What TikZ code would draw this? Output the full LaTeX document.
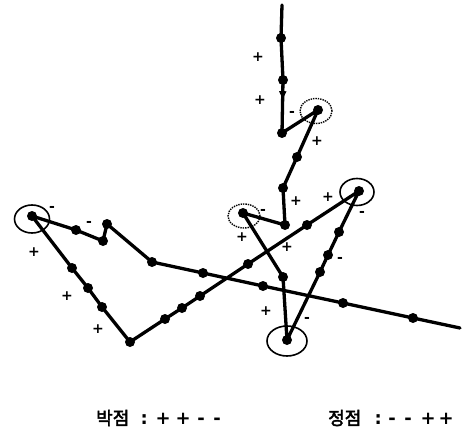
\documentclass[tikz,border=0pt]{standalone}
\usepackage{fontspec}
\newfontfamily\kr[FakeBold=2.5]{Noto Sans CJK KR}
\newfontfamily\sym{DejaVu Sans}
\usetikzlibrary{decorations.markings,arrows.meta,shapes.geometric}
\newcommand\sgbox[1]{\makebox[0pt]{\sym\bfseries #1}}
\begin{document}
\begin{tikzpicture}[x=1pt,y=-1pt,
  route/.style={line width=3.3pt, line join=round, line cap=round},
  dot/.style={circle,fill,inner sep=0pt,minimum size=10pt},
  sg/.style={font=\sym\bfseries\fontsize{14}{14}\selectfont, inner sep=0pt},
  ring/.style={draw, ellipse, line width=1.6pt, inner sep=0pt},
  dring/.style={draw, ellipse, line width=1.4pt, densely dotted, inner sep=0pt},
  midarrow/.style={postaction={decorate}, decoration={markings, mark=at position 0.4 with {\arrow{Latex[length=10pt,width=8pt]}}}},
  legend/.style={font=\kr\fontsize{18}{20}\selectfont, anchor=west, inner sep=0pt}]
\useasboundingbox (0,0) rectangle (466,433);
% path vertices
\coordinate (s) at (282,5);
\node[dot] (a1) at (281,38) {};
\node[dot] (a2) at (283,80) {};
\node[dot] (p1) at (282,133) {};
\node[dot] (p2) at (318,110) {};
\node[dot] (b1) at (297,157) {};
\node[dot] (p3) at (283,188) {};
\node[dot] (p4) at (285,225) {};
\node[dot] (p5) at (243,213) {};
\node[dot] (p6) at (283,277) {};
\node[dot] (p7) at (287,340) {};
\node[dot] (c1) at (320,272) {};
\node[dot] (c2) at (328,255) {};
\node[dot] (c3) at (339,232) {};
\node[dot] (p8) at (359,191) {};
\node[dot] (d1) at (307,225) {};
\node[dot] (d2) at (248,264) {};
\node[dot] (d3) at (200,296) {};
\node[dot] (d4) at (182,308) {};
\node[dot] (d5) at (165,319) {};
\node[dot] (p9) at (130,342) {};
\node[dot] (e1) at (102,307) {};
\node[dot] (e2) at (88,288) {};
\node[dot] (e3) at (72,268) {};
\node[dot] (p10) at (32,216) {};
\node[dot] (f1) at (76,230) {};
\node[dot] (p11) at (103,241) {};
\node[dot] (p12) at (107,224) {};
\node[dot] (p13) at (152,262) {};
\node[dot] (g1) at (203,273) {};
\node[dot] (g2) at (263,286) {};
\node[dot] (g3) at (343,303) {};
\node[dot] (g4) at (413,318) {};
\coordinate (t) at (460,328);
% route
\draw[route] (s) -- (a1.center) -- (a2.center);
\draw[route, midarrow] (a2.center) -- (p1.center);
\draw[route] (p1.center) -- (p2.center) -- (b1.center) -- (p3.center) -- (p4.center)
  -- (p5.center) -- (p6.center) -- (p7.center) -- (c1.center) -- (c2.center) -- (c3.center)
  -- (p8.center) -- (d1.center) -- (d2.center) -- (d3.center) -- (d4.center) -- (d5.center)
  -- (p9.center) -- (e1.center) -- (e2.center) -- (e3.center) -- (p10.center)
  -- (f1.center) -- (p11.center) -- (p12.center) -- (p13.center) -- (g1.center)
  -- (g2.center) -- (g3.center) -- (g4.center) -- (t);
% rings
\node[ring, minimum width=35pt, minimum height=28pt] (r1) at (32,219) {};
\node[ring, minimum width=34pt, minimum height=27pt] (r2) at (357,192) {};
\node[ring, minimum width=40pt, minimum height=30pt] (r3) at (287,341) {};
\node[dring, minimum width=32pt, minimum height=25pt] (r4) at (316,111) {};
\node[dring, minimum width=32pt, minimum height=24pt] (r5) at (244,216) {};
% signs
\node[sg] (l1) at (258,57) {+};
\node[sg] (l2) at (260,100) {+};
\node[sg] (l3) at (292,114) {-};
\node[sg] (l4) at (317,141) {+};
\node[sg] (l5) at (296,201) {+};
\node[sg] (l6) at (328,197) {+};
\node[sg] (l7) at (263,212) {-};
\node[sg] (l8) at (242,237) {+};
\node[sg] (l9) at (287,247) {+};
\node[sg] (l10) at (362,214) {-};
\node[sg] (l11) at (340,260) {-};
\node[sg] (l12) at (266,311) {+};
\node[sg] (l13) at (307,320) {-};
\node[sg] (l14) at (52,209) {-};
\node[sg] (l15) at (89,224) {-};
\node[sg] (l16) at (34,252) {+};
\node[sg] (l17) at (67,296) {+};
\node[sg] (l18) at (98,329) {+};
% legend
\node[legend] (k1) at (96,418) {\makebox[36pt][l]{박점}\hspace{12pt}\sgbox{:}\hspace{19pt}\sgbox{+}\hspace{20pt}\sgbox{+}\hspace{18pt}\sgbox{-}\hspace{16pt}\sgbox{-}\hspace{5pt}};
\node[legend] (k2) at (328,418) {\makebox[36pt][l]{정점}\hspace{14pt}\sgbox{:}\hspace{14pt}\sgbox{-}\hspace{16pt}\sgbox{-}\hspace{20pt}\sgbox{+}\hspace{18pt}\sgbox{+}\hspace{6pt}};
\end{tikzpicture}
\end{document}
